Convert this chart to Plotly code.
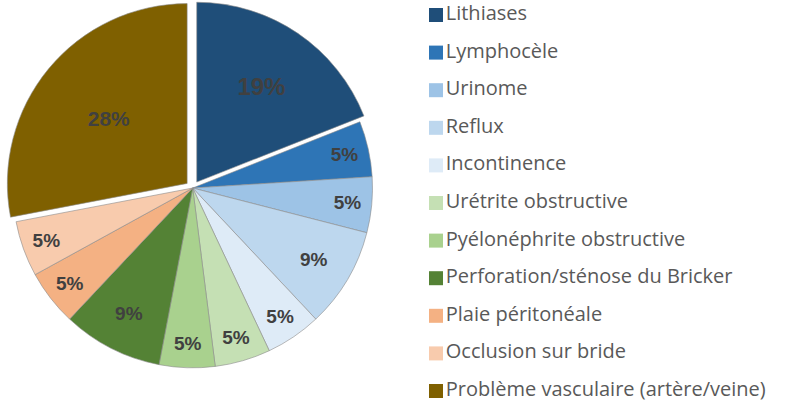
import plotly.graph_objects as go

labels = ["Lithiases", "Lymphocèle", "Urinome", "Reflux", "Incontinence",
          "Urétrite obstructive", "Pyélonéphrite obstructive",
          "Perforation/sténose du Bricker", "Plaie péritonéale",
          "Occlusion sur bride", "Problème vasculaire (artère/veine)"]
values = [19, 5, 5, 9, 5, 5, 5, 9, 5, 5, 28]
colors = ["#1F4E79", "#2E75B6", "#9DC3E6", "#BDD7EE", "#DEEBF7", "#C5E0B4",
          "#A9D18E", "#548235", "#F4B183", "#F8CBAD", "#7F6000"]
pulls = [0.04, 0, 0, 0, 0, 0, 0, 0, 0, 0, 0.04]
label_sizes = [24, 19, 19, 19, 19, 19, 19, 19, 19, 19, 21]

fig = go.Figure()
fig.add_trace(go.Pie(
    labels=labels, values=values, sort=False, direction="clockwise",
    rotation=0, pull=pulls,
    marker=dict(colors=colors, line=dict(color="#8c8c8c", width=0.6)),
    texttemplate="%{percent:.0%}", textposition="inside",
    insidetextorientation="horizontal",
    textfont=dict(family="Liberation Sans", size=label_sizes, color="#404040", weight="bold"),
    domain=dict(x=[0.0, 0.4897], y=[0.074, 0.9975]),
    showlegend=False, hoverinfo="label+percent",
))
# legend drawn as a marker+text column, one row per category
rows = list(range(len(labels)))
fig.add_trace(go.Scatter(
    x=[0] * len(labels), y=rows, mode="markers+text",
    text=labels, textposition="middle right",
    textfont=dict(family="Open Sans", size=20, color="#595959"),
    marker=dict(symbol="square", size=14, color=colors, line=dict(width=0)),
    cliponaxis=False, showlegend=False, hoverinfo="text",
))
fig.update_layout(
    width=787, height=405, margin=dict(l=0, r=0, t=0, b=0),
    paper_bgcolor="white", plot_bgcolor="rgba(0,0,0,0)",
    xaxis=dict(visible=False, domain=[0.5540, 1.0], range=[0, 1], fixedrange=True),
    yaxis=dict(visible=False, domain=[0, 1], range=[10.372, -0.399], fixedrange=True),
    showlegend=False,
)
fig.write_html("out.html", config={"displayModeBar": False},
               post_script="document.body.style.margin='0';")
